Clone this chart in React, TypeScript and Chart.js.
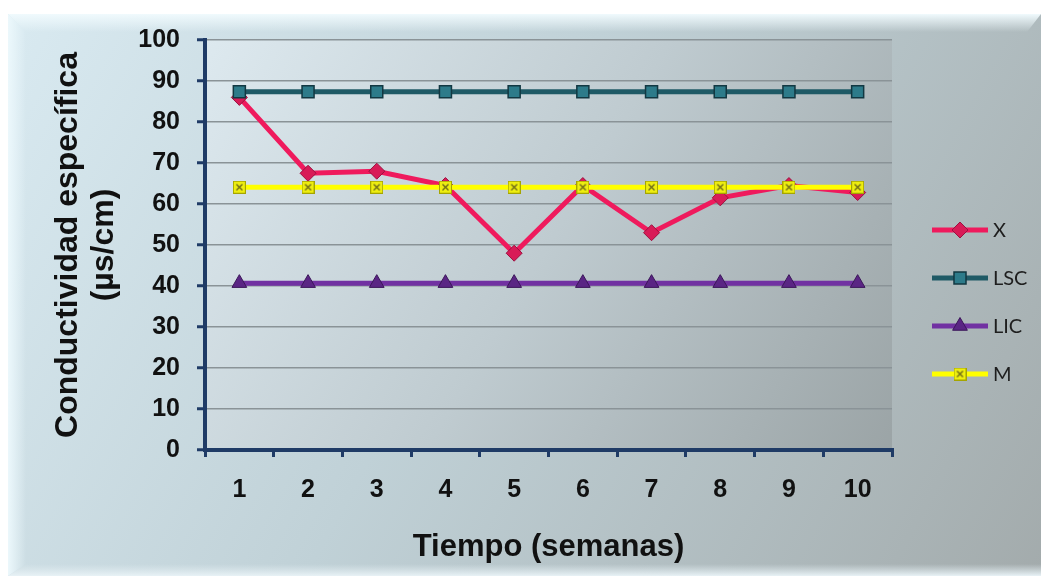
import React, { useEffect, useRef } from "react";
import { Chart, registerables } from "chart.js";
import { drawPoint } from "chart.js/helpers";

Chart.register(...registerables);

// Semanas de muestreo
const weeks = ["1", "2", "3", "4", "5", "6", "7", "8", "9", "10"];

// Conductividad medida (X)
const xValues = [86, 67.5, 68, 64.5, 48, 64.5, 53, 61.5, 64.5, 62.8];
// Límite superior de control
const lscValues = [87.4, 87.4, 87.4, 87.4, 87.4, 87.4, 87.4, 87.4, 87.4, 87.4];
// Límite inferior de control
const licValues = [40.7, 40.7, 40.7, 40.7, 40.7, 40.7, 40.7, 40.7, 40.7, 40.7];
// Media
const mValues = [64.1, 64.1, 64.1, 64.1, 64.1, 64.1, 64.1, 64.1, 64.1, 64.1];

const seriesNames = ["X", "LSC", "LIC", "M"];

const yTicks = [0, 10, 20, 30, 40, 50, 60, 70, 80, 90, 100];

const NAVY = "#1f3b66";
const GRID = "#8a9397";

// Yellow square marker with a small olive cross for the mean series
function makeMeanMarker(): HTMLCanvasElement {
  const c = document.createElement("canvas");
  c.width = 13;
  c.height = 13;
  const g = c.getContext("2d")!;
  g.fillStyle = "#eeee10";
  g.fillRect(0.5, 0.5, 12, 12);
  g.strokeStyle = "#a5a500";
  g.lineWidth = 1;
  g.strokeRect(0.5, 0.5, 12, 12);
  g.strokeStyle = "#6d6a1a";
  g.lineWidth = 1.4;
  g.beginPath();
  g.moveTo(3.5, 3.5);
  g.lineTo(9.5, 9.5);
  g.moveTo(9.5, 3.5);
  g.lineTo(3.5, 9.5);
  g.stroke();
  return c;
}

const backgroundPlugin = {
  id: "panelBackground",
  beforeDraw(chart: any) {
    const { ctx, chartArea } = chart;
    const W = chart.width;
    const H = chart.height;
    ctx.save();
    ctx.fillStyle = "#ffffff";
    ctx.fillRect(0, 0, W, H);

    const px = 8, py = 14, pr = W, pb = 576;
    const g = ctx.createLinearGradient(px, py, pr, pb);
    g.addColorStop(0, "#d9eaf1");
    g.addColorStop(0.45, "#c0d1d7");
    g.addColorStop(1, "#a3abac");
    ctx.fillStyle = g;
    ctx.fillRect(px, py, pr - px, pb - py);

    // bevel highlights
    const gt = ctx.createLinearGradient(0, py, 0, py + 18);
    gt.addColorStop(0, "rgba(240,250,253,1)");
    gt.addColorStop(1, "rgba(240,250,253,0)");
    ctx.fillStyle = gt;
    ctx.beginPath();
    ctx.moveTo(px, py);
    ctx.lineTo(pr, py);
    ctx.lineTo(pr - 14, py + 18);
    ctx.lineTo(px + 18, py + 18);
    ctx.closePath();
    ctx.fill();

    const gl = ctx.createLinearGradient(px, 0, px + 18, 0);
    gl.addColorStop(0, "rgba(236,248,252,1)");
    gl.addColorStop(1, "rgba(236,248,252,0)");
    ctx.fillStyle = gl;
    ctx.beginPath();
    ctx.moveTo(px, py);
    ctx.lineTo(px + 18, py + 18);
    ctx.lineTo(px + 18, pb - 12);
    ctx.lineTo(px, pb);
    ctx.closePath();
    ctx.fill();

    const gb = ctx.createLinearGradient(0, pb - 12, 0, pb);
    gb.addColorStop(0, "rgba(225,236,240,0)");
    gb.addColorStop(1, "rgba(232,242,246,1)");
    ctx.fillStyle = gb;
    ctx.beginPath();
    ctx.moveTo(px + 18, pb - 12);
    ctx.lineTo(pr, pb - 12);
    ctx.lineTo(pr, pb);
    ctx.lineTo(px, pb);
    ctx.closePath();
    ctx.fill();

    // plot area
    const { left, top, right, bottom } = chartArea;
    const ga = ctx.createLinearGradient(left, top, right, bottom);
    ga.addColorStop(0, "#dde9ef");
    ga.addColorStop(0.5, "#bfcbd0");
    ga.addColorStop(1, "#9ba4a6");
    ctx.fillStyle = ga;
    ctx.fillRect(left, top, right - left, bottom - top);
    ctx.restore();
  },
};

const legendPlugin = {
  id: "lineMarkerLegend",
  afterDraw(chart: any) {
    const { ctx } = chart;
    ctx.save();
    chart.data.datasets.forEach((ds: any, i: number) => {
      const y = 230 + 48 * i;
      ctx.strokeStyle = ds.borderColor;
      ctx.lineWidth = 5;
      ctx.lineCap = "butt";
      ctx.beginPath();
      ctx.moveTo(932, y);
      ctx.lineTo(988, y);
      ctx.stroke();
      ctx.fillStyle = ds.pointBackgroundColor;
      ctx.strokeStyle = ds.pointBorderColor;
      ctx.lineWidth = ds.pointBorderWidth;
      drawPoint(
        ctx,
        {
          pointStyle: ds.pointStyle,
          radius: ds.pointRadius,
          rotation: 0,
          borderWidth: ds.pointBorderWidth,
        },
        960,
        y
      );
      ctx.fillStyle = "#1e1e1e";
      ctx.font = "20px Lato, 'Open Sans', sans-serif";
      ctx.textBaseline = "middle";
      ctx.textAlign = "left";
      ctx.fillText(seriesNames[i], 993, y + 1);
    });
    ctx.restore();
  },
};

export default function App() {
  const ref = useRef<HTMLCanvasElement | null>(null);

  useEffect(() => {
    if (!ref.current) return;
    const meanMarker = makeMeanMarker();
    const chart = new Chart(ref.current, {
      type: "line",
      data: {
        labels: weeks,
        datasets: [
          {
            label: seriesNames[0],
            data: xValues,
            borderColor: "#ef1a5d",
            borderWidth: 5,
            pointStyle: "rectRot",
            pointRadius: 8,
            pointBackgroundColor: "#d81b57",
            pointBorderColor: "#9c1140",
            pointBorderWidth: 1,
            order: 3,
          },
          {
            label: seriesNames[1],
            data: lscValues,
            borderColor: "#1f5a66",
            borderWidth: 5,
            pointStyle: "rect",
            pointRadius: 8.5,
            pointBackgroundColor: "#2d7b8a",
            pointBorderColor: "#123842",
            pointBorderWidth: 1.5,
            order: 2,
          },
          {
            label: seriesNames[2],
            data: licValues,
            borderColor: "#7131a2",
            borderWidth: 5,
            pointStyle: "triangle",
            pointRadius: 8.5,
            pointBackgroundColor: "#5a2584",
            pointBorderColor: "#3b1659",
            pointBorderWidth: 1,
            order: 1,
          },
          {
            label: seriesNames[3],
            data: mValues,
            borderColor: "#ffff00",
            borderWidth: 5,
            pointStyle: meanMarker as any,
            pointRadius: 7,
            pointBackgroundColor: "#eeee10",
            pointBorderColor: "#a5a500",
            pointBorderWidth: 1,
            order: 0,
          },
        ],
      },
      options: {
        responsive: false,
        animation: false,
        layout: { padding: { left: 0, top: 40, right: 149, bottom: 0 } },
        plugins: {
          legend: { display: false },
          tooltip: { enabled: false },
        },
        elements: { line: { tension: 0 } },
        scales: {
          x: {
            type: "category",
            offset: true,
            afterFit: (s: any) => {
              s.height = 136;
            },
            grid: {
              offset: true,
              drawOnChartArea: false,
              drawTicks: true,
              tickLength: 7,
              color: NAVY,
              lineWidth: 3,
            },
            border: { display: true, color: NAVY, width: 4 },
            ticks: {
              color: "#111",
              padding: 18,
              maxRotation: 0,
              font: { family: "'Liberation Sans', Arial, sans-serif", size: 25, weight: "bold" },
            },
            title: {
              display: true,
              text: "Tiempo (semanas)",
              color: "#111",
              padding: { top: 0, bottom: 20 },
              font: { family: "'Liberation Sans', Arial, sans-serif", size: 31, weight: "bold", lineHeight: 1.2 },
            },
          },
          y: {
            min: 0,
            max: 100,
            afterFit: (s: any) => {
              s.width = 205;
            },
            afterBuildTicks: (s: any) => {
              s.ticks = yTicks.map((v) => ({ value: v }));
            },
            grid: {
              color: GRID,
              lineWidth: 1.5,
              drawTicks: true,
              tickLength: 8,
              tickColor: NAVY,
              tickWidth: 3,
            },
            border: { display: true, color: NAVY, width: 4 },
            ticks: {
              color: "#111",
              padding: 17,
              font: { family: "'Liberation Sans', Arial, sans-serif", size: 25, weight: "bold" },
            },
            title: {
              display: true,
              text: ["Conductividad específica", "(µs/cm)"],
              color: "#111",
              padding: { top: 50, bottom: 0 },
              font: { family: "'Liberation Sans', Arial, sans-serif", size: 32, weight: "bold", lineHeight: 1.125 },
            },
          },
        },
      },
      plugins: [backgroundPlugin, legendPlugin],
    });
    return () => chart.destroy();
  }, []);

  return (
    <div style={{ position: "fixed", left: 0, top: 0, width: 1041, height: 586 }}>
      <canvas ref={ref} width={1041} height={586} />
    </div>
  );
}
